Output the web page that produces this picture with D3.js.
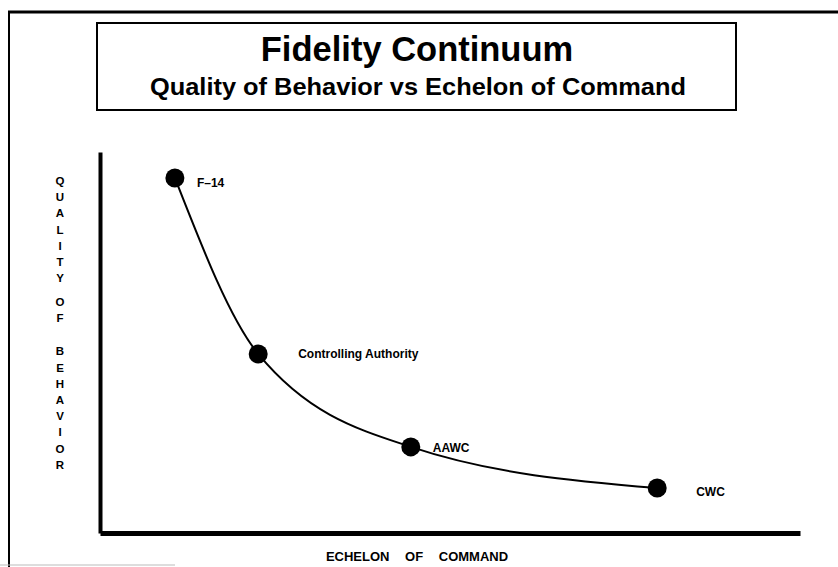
<!DOCTYPE html>
<html>
<head>
<meta charset="utf-8">
<script src="https://cdn.jsdelivr.net/npm/d3@7"></script>
<style>
	body { margin: 0; background: #fff; }
	svg { display: block; font-family: "Liberation Sans", Arial, Helvetica, sans-serif; }
</style>
</head>
<body>
<div id="chart"></div>
<script>
// data
const stations = ['F\u201314', 'Controlling Authority', 'AAWC', 'CWC'];
const echelon = [10.7, 22.6, 44.4, 79.6];
const quality = [93.2, 47.0, 22.6, 11.8];
const yLabelWords = ['QUALITY', 'OF', 'BEHAVIOR'];
const xLabel = 'ECHELON OF COMMAND';
const title = 'Fidelity Continuum';
const subtitle = 'Quality of Behavior vs Echelon of Command';

// where each label sits relative to its dot
const labelDx = [22, 40, 22, 39];
const labelDy = [9, 4, 5, 8];

function drawChart() {
	const width = 838, height = 567;

	const svg = d3.select('#chart').append('svg')
		.attr('width', width)
		.attr('height', height);

	// page frame
	svg.append('line')
		.attr('x1', 8).attr('y1', 12).attr('x2', width).attr('y2', 12)
		.attr('stroke', '#000').attr('stroke-width', 3);
	svg.append('line')
		.attr('x1', 9).attr('y1', 11).attr('x2', 9).attr('y2', height)
		.attr('stroke', '#000').attr('stroke-width', 2);
	svg.append('line')
		.attr('x1', 0).attr('y1', 565).attr('x2', 175).attr('y2', 565)
		.attr('stroke', '#bbb').attr('stroke-width', 1);

	// title box
	svg.append('rect')
		.attr('x', 97).attr('y', 23).attr('width', 639).attr('height', 87)
		.attr('fill', 'none').attr('stroke', '#000').attr('stroke-width', 2);

	svg.append('text')
		.attr('x', 417).attr('y', 61)
		.attr('text-anchor', 'middle')
		.attr('font-size', 34.5).attr('font-weight', 'bold')
		.text(title);

	svg.append('text')
		.attr('x', 418).attr('y', 95)
		.attr('text-anchor', 'middle')
		.attr('font-size', 24).attr('font-weight', 'bold')
		.attr('textLength', 536).attr('lengthAdjust', 'spacingAndGlyphs')
		.text(subtitle);

	const x = d3.scaleLinear().domain([0, 100]).range([100, 800]);
	const y = d3.scaleLinear().domain([0, 100]).range([533, 152]);

	// axes: plain thick lines, no ticks
	svg.append('g')
		.attr('transform', 'translate(100,0)')
		.call(d3.axisLeft(y).tickValues([]).tickSizeOuter(0))
		.select('.domain')
		.attr('stroke-width', 4);

	svg.append('g')
		.attr('transform', 'translate(0,533)')
		.call(d3.axisBottom(x).tickValues([]).tickSizeOuter(0))
		.select('.domain')
		.attr('stroke-width', 5);

	const points = stations.map((name, i) => ({
		name, ex: echelon[i], q: quality[i], dx: labelDx[i], dy: labelDy[i]
	}));

	const line = d3.line()
		.x(d => x(d.ex))
		.y(d => y(d.q))
		.curve(d3.curveMonotoneX);

	svg.append('path')
		.datum(points)
		.attr('d', line)
		.attr('fill', 'none')
		.attr('stroke', '#000')
		.attr('stroke-width', 2);

	svg.selectAll('.dot')
		.data(points)
		.enter().append('circle')
		.attr('class', 'dot')
		.attr('cx', d => x(d.ex))
		.attr('cy', d => y(d.q))
		.attr('r', 9.5)
		.attr('fill', '#000');

	svg.selectAll('.pt-label')
		.data(points)
		.enter().append('text')
		.attr('class', 'pt-label')
		.attr('x', d => x(d.ex) + d.dx)
		.attr('y', d => y(d.q) + d.dy)
		.attr('font-size', 12).attr('font-weight', 'bold')
		.text(d => d.name);

	// vertical y label, one letter per line
	const yText = svg.append('text')
		.attr('text-anchor', 'middle')
		.attr('font-size', 11.5).attr('font-weight', 'bold');
	const wordGap = [0, 24, 33];
	let cy = 185;
	yLabelWords.forEach((word, w) => {
		if (w > 0) cy += wordGap[w] - 16.2;
		word.split('').forEach(ch => {
			yText.append('tspan').attr('x', 60).attr('y', cy).text(ch);
			cy += 16.2;
		});
	});

	svg.append('text')
		.attr('x', 417).attr('y', 561)
		.attr('text-anchor', 'middle')
		.attr('font-size', 13).attr('font-weight', 'bold')
		.attr('word-spacing', 12)
		.text(xLabel);
}

drawChart();
</script>
</body>
</html>
